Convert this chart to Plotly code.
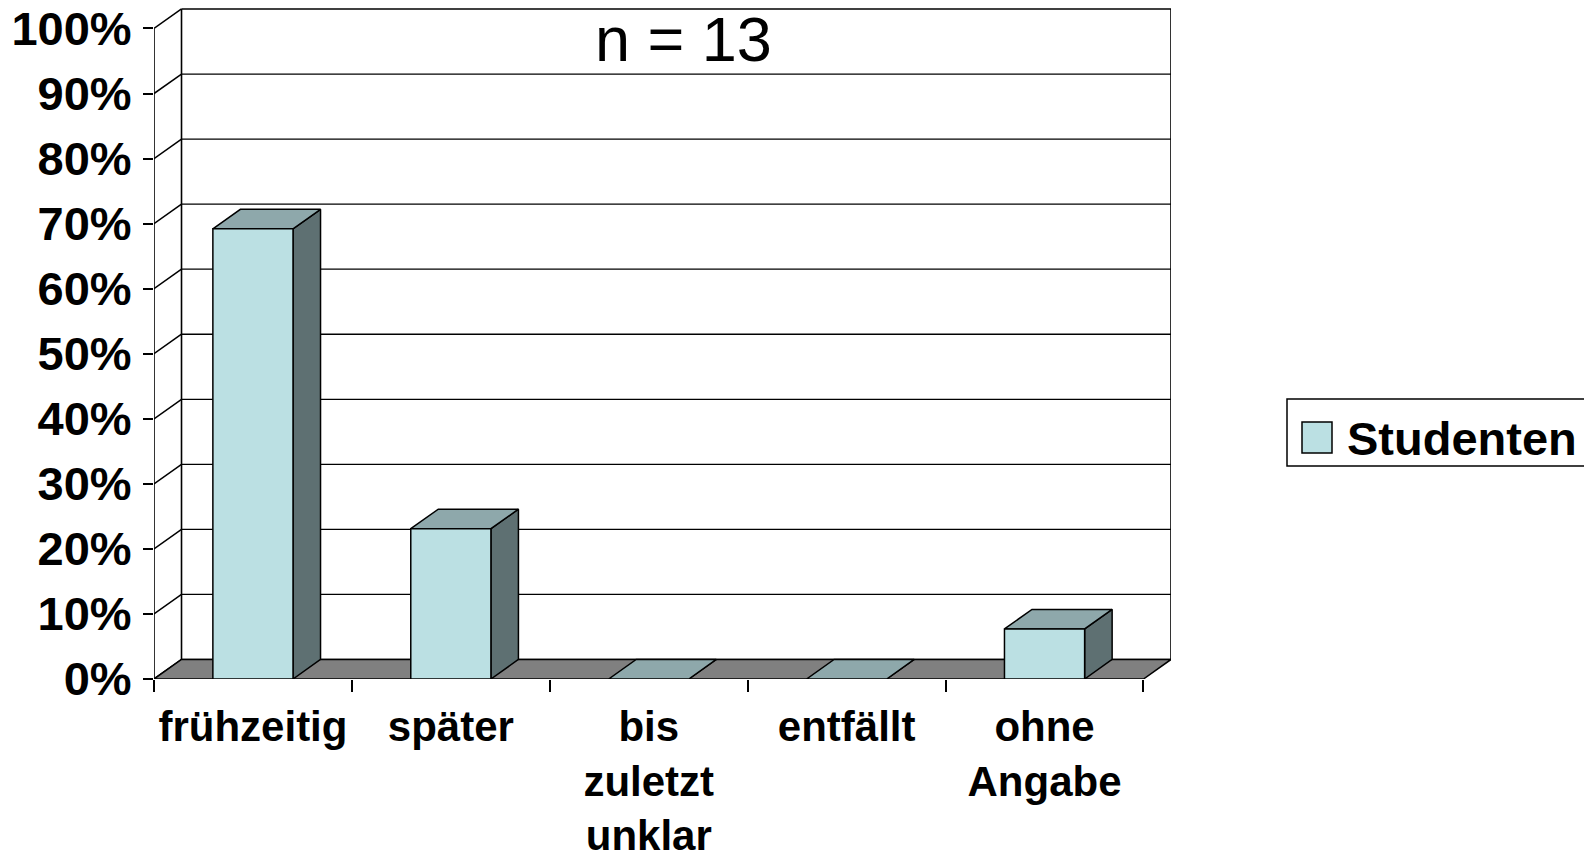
import plotly.graph_objects as go

# ---- data ----
categories = ["frühzeitig", "später", "bis<br>zuletzt<br>unklar", "entfällt", "ohne<br>Angabe"]
studenten = [69.2, 23.1, 0.0, 0.0, 7.7]   # percent, n = 13
y_ticks = [0, 10, 20, 30, 40, 50, 60, 70, 80, 90, 100]
y_tick_labels = [f"{v}%" for v in y_ticks]
series_name = "Studenten"
title_text = "n = 13"

# ---- pseudo-3D geometry ----
DX = 0.139   # depth offset in category units
DY = 3.0     # depth offset in percent units
W = 0.405    # bar width (category units)
n = len(categories)
x_lo, x_hi = -0.5, n - 0.5

FRONT = "#BBE0E3"
TOP = "#8EA8AB"
SIDE = "#5E7072"
FLOOR = "#808080"
LINE = "black"
FONT = "Liberation Sans"

# the page body has an 8px margin; the figure is sized to fit the window
OFF = 8
W_PX, H_PX = 1592 - OFF, 855 - OFF
ML, MR, MT, MB = 154 - OFF, 421, 0, 176
PW = W_PX - ML - MR
PH = H_PX - MT - MB

fig = go.Figure()

def poly_trace(xs, ys, fill, lw=1.5):
    return go.Scatter(x=xs, y=ys, mode="lines", fill="toself" if fill else None,
                      fillcolor=fill, line=dict(color=LINE, width=lw),
                      hoverinfo="skip", showlegend=False)

# back wall gridlines
gx, gy = [], []
for v in y_ticks:
    gx += [x_lo + DX, x_hi + DX, None]
    gy += [v + DY, v + DY, None]
fig.add_trace(poly_trace(gx, gy, None, lw=1.3))
# back wall edges
fig.add_trace(poly_trace([x_lo + DX, x_lo + DX, None, x_hi + DX, x_hi + DX],
                         [DY, 100 + DY, None, DY, 100 + DY], None, lw=1.6))
# left side wall diagonals
sx, sy = [], []
for v in y_ticks:
    sx += [x_lo, x_lo + DX, None]
    sy += [v, v + DY, None]
fig.add_trace(poly_trace(sx, sy, None, lw=1.5))

# floor
fig.add_trace(poly_trace([x_lo, x_hi, x_hi + DX, x_lo + DX, x_lo],
                         [0, 0, DY, DY, 0], FLOOR, lw=1.5))

# bars
for i, v in enumerate(studenten):
    l, r = i - W / 2, i + W / 2
    fig.add_trace(poly_trace([r, r + DX, r + DX, r, r], [0, DY, v + DY, v, 0], SIDE))
    fig.add_trace(poly_trace([l, r, r + DX, l + DX, l], [v, v, v + DY, v + DY, v], TOP))
    if v > 0:
        fig.add_trace(poly_trace([l, r, r, l, l], [0, 0, v, v, 0], FRONT))

# front y axis line
fig.add_trace(poly_trace([x_lo, x_lo], [0, 100], None, lw=1.6))

# invisible trace for second x axis (boundary ticks)
fig.add_trace(go.Scatter(x=[x_lo, x_hi], y=[0, 0], xaxis="x2", mode="lines",
                         line=dict(width=0), hoverinfo="skip", showlegend=False))

xfont = dict(family=FONT, size=42, color="black", weight="bold")
yfont = dict(family=FONT, size=47, color="black", weight="bold")

fig.update_layout(
    width=W_PX, height=H_PX,
    margin=dict(l=ML, r=MR, t=MT, b=MB),
    paper_bgcolor="white", plot_bgcolor="white",
    showlegend=False,
    xaxis=dict(range=[x_lo, x_hi + DX], tickmode="array",
               tickvals=list(range(n)), ticktext=categories,
               ticks="", showgrid=False, zeroline=False, showline=False,
               tickfont=xfont, ticklabelstandoff=19, fixedrange=True,
               automargin=False, ticklabeloverflow="allow"),
    xaxis2=dict(range=[x_lo, x_hi + DX], overlaying="x", anchor="y", side="bottom",
                tickmode="array", tickvals=[i - 0.5 for i in range(n + 1)],
                ticktext=[""] * (n + 1), ticks="outside", ticklen=12,
                tickwidth=1.5, tickcolor=LINE, showgrid=False, zeroline=False,
                showline=False, fixedrange=True, automargin=False),
    yaxis=dict(range=[0, 100 + DY + 0.15], tickmode="array", tickvals=y_ticks,
               ticktext=y_tick_labels, ticks="outside", ticklen=10, tickwidth=1.5,
               tickcolor=LINE, showgrid=False, zeroline=False, showline=False,
               tickfont=yfont, ticklabelstandoff=2, fixedrange=True,
               automargin=False, ticklabeloverflow="allow"),
)

def px2paper(px, py):
    # px, py are window coordinates
    return (px - OFF - ML) / PW, (H_PX - MB - (py - OFF)) / PH

# title "n = 13"
tx, ty = px2paper(683, 39)
fig.add_annotation(text=title_text, x=tx, y=ty, xref="paper", yref="paper",
                   showarrow=False, xanchor="center", yanchor="middle",
                   font=dict(family=FONT, size=63, color="black"))

# manual legend
bx0, by0 = px2paper(1287, 466)
bx1, by1 = px2paper(1587, 399)
fig.add_shape(type="rect", xref="paper", yref="paper", x0=bx0, y0=by0, x1=bx1, y1=by1,
              line=dict(color=LINE, width=1.5), fillcolor="white")
sx0, sy0 = px2paper(1302, 453)
sx1, sy1 = px2paper(1332, 422)
fig.add_shape(type="rect", xref="paper", yref="paper", x0=sx0, y0=sy0, x1=sx1, y1=sy1,
              line=dict(color=LINE, width=1.5), fillcolor=FRONT)
lx, ly = px2paper(1345, 438)
fig.add_annotation(text=series_name, x=lx, y=ly, xref="paper", yref="paper",
                   showarrow=False, xanchor="left", yanchor="middle",
                   font=dict(family=FONT, size=47, color="black", weight="bold"))

fig.write_html("out.html")
